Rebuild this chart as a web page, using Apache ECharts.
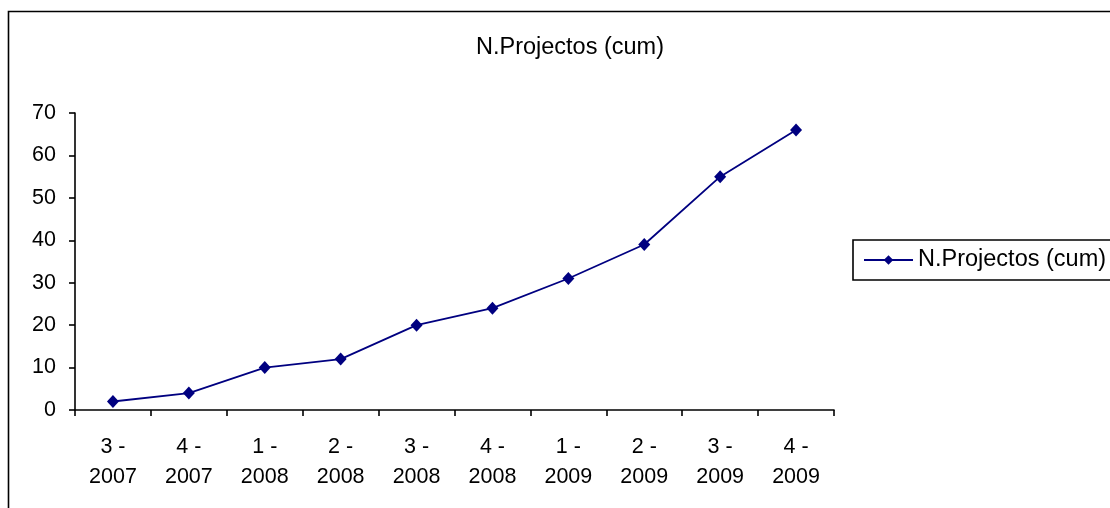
<!DOCTYPE html>
<html><head><meta charset="utf-8">
<script src="https://cdn.jsdelivr.net/npm/echarts@6/dist/echarts.min.js"></script>
<style>html,body{margin:0;padding:0;background:#fff}#c{width:1110px;height:508px}</style>
</head><body><div id="c"></div>
<script>
const categories = ['3 -\n2007','4 -\n2007','1 -\n2008','2 -\n2008','3 -\n2008','4 -\n2008','1 -\n2009','2 -\n2009','3 -\n2009','4 -\n2009'];
const seriesName = 'N.Projectos (cum)';
const values = [2, 4, 10, 12, 20, 24, 31, 39, 55, 66];
const yTicks = {min: 0, max: 70, interval: 10};

const font = '"Liberation Sans", Arial, sans-serif';
const chart = echarts.init(document.getElementById('c'), null, {renderer: 'canvas'});
chart.setOption({
  animation: false,
  backgroundColor: '#fff',
  textStyle: {fontFamily: font},
  graphic: [{
    type: 'rect', shape: {x: 8.5, y: 11.5, width: 1300, height: 700},
    style: {fill: 'none', stroke: '#000', lineWidth: 1.6}, z: -1, silent: true
  }],
  title: {
    text: seriesName, left: 565, top: 31, textAlign: 'center',
    textStyle: {fontFamily: font, fontSize: 23.5, fontWeight: 'normal', color: '#000'}
  },
  legend: {
    left: 853, top: 240, orient: 'vertical',
    padding: [8, 200, 8, 10],
    borderColor: '#000', borderWidth: 1.6,
    itemWidth: 49, itemHeight: 12, itemGap: 6,
    textStyle: {fontFamily: font, fontSize: 23.5, color: '#000', padding: [0, 0, 0, 0]},
    data: [seriesName]
  },
  grid: {left: 75, right: 276, top: 113, bottom: 98, containLabel: false},
  xAxis: {
    type: 'category', data: categories, boundaryGap: true,
    axisLine: {lineStyle: {color: '#000', width: 1.6}},
    axisTick: {show: true, length: 6, lineStyle: {color: '#000', width: 1.6}},
    axisLabel: {color: '#000', fontSize: 21.5, fontFamily: font, lineHeight: 30, margin: 22, interval: 0}
  },
  yAxis: {
    type: 'value', min: yTicks.min, max: yTicks.max, interval: yTicks.interval,
    splitLine: {show: false},
    axisLine: {show: true, lineStyle: {color: '#000', width: 1.6}},
    axisTick: {show: true, length: 6, lineStyle: {color: '#000', width: 1.6}},
    axisLabel: {color: '#000', fontSize: 21.5, fontFamily: font, margin: 19}
  },
  series: [{
    name: seriesName, type: 'line', data: values,
    symbol: 'diamond', symbolSize: [12, 13],
    lineStyle: {color: '#000080', width: 1.8},
    itemStyle: {color: '#000080'}
  }]
});
</script></body></html>
